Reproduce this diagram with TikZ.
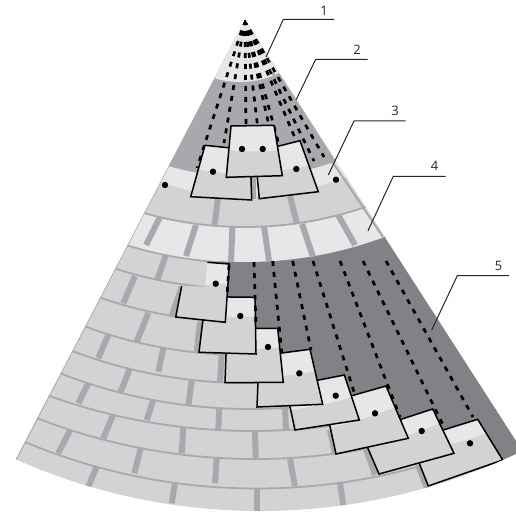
\documentclass[tikz,border=0pt]{standalone}
\usepackage{fontspec}
\setmainfont{Open Sans}
\usetikzlibrary{calc}
\definecolor{lt}{HTML}{E6E7E8}
\definecolor{gy}{HTML}{D1D3D4}
\definecolor{gr}{HTML}{A7A9AC}
\definecolor{dk}{HTML}{808285}
\tikzset{
  rowline/.style={draw=gr,line width=1.8pt},
  gapline/.style={draw=gr,line width=6pt},
  dashline/.style={draw=black,line width=2.7pt,dash pattern=on 5pt off 6pt},
  outline/.style={draw=black,line width=1.5pt,line join=miter},
  leader/.style={draw=black!85,line width=1pt},
  tag/.style={font=\fontsize{13}{15}\selectfont,text=black!85,inner sep=0pt},
}
\newcommand\rowc[3]{(#1,#2-#3) circle (#3)}
\newcommand\dotat[2]{\fill[black] (#1,#2) circle (3.2);}
% fill path, boundary A, boundary B, outline path
\newcommand\brickshape[4]{%
  \fill[gy] #1;
  \begin{scope}
    \clip #1;
    \fill[lt] (#2) to[bend right=5] (#3) -- ($(#3)+(0,-90)$) -- ($(#2)+(0,-90)$) -- cycle;
  \end{scope}
  \draw[outline] #4;
}
\newcommand\quadbrick[6]{\brickshape{(#1)--(#2)--(#3)--(#4)--cycle}{#5}{#6}{(#1)--(#2)--(#3)--(#4)--cycle}}
\begin{document}
\begin{tikzpicture}[x=1pt,y=-1pt]
\useasboundingbox (0,0) rectangle (516,513);
\coordinate (apex) at (245,20);
\begin{scope}
  \clip (0,0) rectangle (516,513);
  \clip (apex) -- (-6.9,502.9) -- (300,800) -- (597.3,567.3) -- cycle;
  \clip \rowc{260}{511}{601};
  \fill[gy] (-10,-10) rectangle (600,600);
  % rows of bricks
  \draw[rowline] \rowc{257}{488.5}{600};
  \draw[rowline] \rowc{255}{459}{600};
  \draw[rowline] \rowc{252}{431}{600};
  \draw[rowline] \rowc{250}{409}{520};
  \draw[rowline] \rowc{247}{383}{490};
  \draw[rowline] \rowc{245}{355}{460};
  \draw[rowline] \rowc{245}{322}{440};
  \draw[rowline] \rowc{245}{289}{420};
  \draw[line width=3.6pt,draw=gr] \rowc{245}{262}{400};
  % vertical joints
  \foreach \a/\b/\c/\d in {
    96.7/466.7/88.3/486.7, 175/482.7/171.7/503.3, 256.7/488/256.7/512, 340/482.7/343.3/505, 418/465/427/488,
    70/430/58.3/453.3, 140.7/448.3/134.3/473.3, 216.7/457.3/215/483.3, 290/459.3/295/486, 366/449/375/475,
    113/415/103.3/438.3, 183.3/428.3/181.7/453.3, 255/431.7/255.7/458.3, 330/430/335/453.3,
    88.3/383.3/78.3/403.3, 153.3/400/146.7/420, 219.3/408.3/218.3/430, 285/408.3/286/430,
    130/368.3/120/393.3, 191.7/380/188.3/406,
    108.3/335/98.3/358.3, 163.3/348.3/158.3/371.7, 221.7/355/220/381.7,
    148.3/313/136.7/341.7, 200/321.7/196.7/351.7,
    135/276/123.3/303.3, 181.7/287/171.7/316,
    166/255/157.3/280}
    {\draw[gapline] (\a,\b) -- (\c,\d);}
  % emptied part of the wall
  \fill[dk] (220,200) -- (220,305) -- (240,305) -- (240,340) -- (265,340) -- (265,365) -- (295,365)
    -- (295,395) -- (330,395) -- (330,415) -- (375,415) -- (375,435) -- (425,435) -- (425,450)
    -- (470,450) -- (495,450) -- (501,459) -- (504,530) -- (620,530) -- (620,200) -- cycle;
  % light row
  \fill[lt] \rowc{245}{262}{400};
  \foreach \a/\b/\c/\d in {
    160/217/146/245, 196/225/186/256, 232.5/227/231/262, 264/226/269/261, 302/224/313/257, 337/213/355/245}
    {\draw[gapline] (\a,\b) -- (\c,\d);}
  \fill[gy] \rowc{245}{227}{370};
  \draw[rowline] \rowc{245}{227}{370};
  % upper rings
  \fill[lt] \rowc{245}{196}{270};
  \fill[gr] \rowc{245}{177}{270};
  \fill[lt] \rowc{240}{82}{90};
  \foreach \a/\b/\c/\d in {218/198/214.5/226, 290/196/297/224, 253/170/253/199}
    {\draw[gapline] (\a,\b) -- (\c,\d);}
  % fan edges
  \draw[gr,line width=2pt] (215,76) -- (-6.9,502.9);
  \draw[gr,line width=2pt] (272,72) -- (383,237);
  % sight lines in the upper fan
  \foreach \ex/\ey in {324/157,314/161,298/145,279/145,270/130,258/130,246/130,224/143,197/168}
    {\draw[dashline] (apex) -- (\ex,\ey);}
  % sight lines in the emptied part, hidden ends
  \foreach \ax/\ay/\ex/\ey in {292.7/261/311/350, 313/261/354/392, 340/261/400/417, 363/261/443/425, 386/261/473/417}
    {\draw[dashline] (\ax,\ay) -- (\ex,\ey);}
  % lower bricks, from the last to the first
  \quadbrick{410,440.3}{477.7,419.3}{502.7,460}{428.3,486}{412,452}{490,432}
  \dotat{470}{443.3}
  \quadbrick{361,432.3}{432.7,409}{454,453.3}{379,474}{365,447}{447,420}
  \dotat{421.7}{431}
  \quadbrick{325,403.3}{386,386}{408.3,438.3}{336,454}{328,428}{400,405}
  \dotat{375}{413.3}
  \quadbrick{285.7,386.5}{344.3,375}{359.3,420}{295,430}{288,410}{355,396}
  \dotat{335.7}{395.7}
  \quadbrick{259,356}{310,349.3}{322.7,404.3}{257,407}{258,377}{316,371}
  \dotat{299.3}{373.3}
  \quadbrick{227,328.3}{277.7,328.3}{283.3,382.3}{225,382.7}{225,348}{282,347}
  \dotat{268}{347}
  \quadbrick{205.7,296.7}{255,297.3}{256,354}{199,352.3}{203,316}{257,316}
  \dotat{240.3}{316}
  \brickshape{(207.3,262.3)--(229.3,264)--(225.3,322.3)--(175.7,317)--(181.7,286)--(205,286.7)--cycle}{205,284.5}{228,283.5}{(207.3,262.3)--(229.3,264)--(225.3,322.3)--(175.7,317)--(181.7,286)}
  \dotat{215.7}{283.7}
  % these three run along brick edges and stay on top
  \foreach \ax/\ay/\ex/\ey in {229/265/227/296, 254/262/256/328, 272.7/261/281.7/352}
    {\draw[dashline] (\ax,\ay) -- (\ex,\ey);}
  % upper bricks
  \quadbrick{205,145.3}{250,150}{251.7,200}{190.7,196.7}{195,169}{252,174}
  \dotat{213}{171.7}
  \quadbrick{255,152}{300,140.7}{318.3,191.7}{259.3,198.7}{255,172}{312,165}
  \dotat{296.3}{169}
  \quadbrick{231,126}{274,125.3}{282.3,175.7}{226.3,177.3}{226,150}{282,150}
  \dotat{242}{149}
  \dotat{262.7}{149}
  % free dots
  \dotat{165}{185}
  \dotat{336}{179.7}
  \dotat{245}{22}
\end{scope}
% leaders
\coordinate (a1) at (266,57);     \coordinate (b1) at (283.3,19.5);  \coordinate (c1) at (334.3,19.5);
\coordinate (a2) at (296,100);    \coordinate (b2) at (315.7,59.3);  \coordinate (c2) at (367.7,59.3);
\coordinate (a3) at (328.3,175);  \coordinate (b3) at (354,121);     \coordinate (c3) at (405.7,121);
\coordinate (a4) at (368,230.7);  \coordinate (b4) at (393.3,176.3); \coordinate (c4) at (445.7,176.3);
\coordinate (a5) at (431.7,330);  \coordinate (b5) at (457.3,275.7); \coordinate (c5) at (509,275.7);
\draw[leader] (a1) -- (b1) -- (c1);
\draw[leader] (a2) -- (b2) -- (c2);
\draw[leader] (a3) -- (b3) -- (c3);
\draw[leader] (a4) -- (b4) -- (c4);
\draw[leader] (a5) -- (b5) -- (c5);
\node[tag] (t1) at (324,10.5) {1};
\node[tag] (t2) at (357,50) {2};
\node[tag] (t3) at (395,110.5) {3};
\node[tag] (t4) at (434.5,166) {4};
\node[tag] (t5) at (498.5,266) {5};
\end{tikzpicture}
\end{document}
